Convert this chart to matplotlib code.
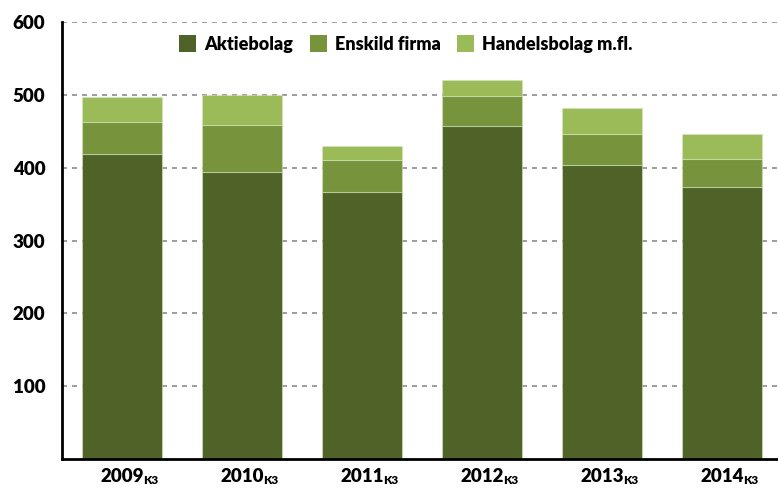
import numpy as np
import matplotlib
matplotlib.use('Agg')
import matplotlib.pyplot as plt
from matplotlib.patches import Patch

years = ['2009', '2010', '2011', '2012', '2013', '2014']
suffix = 'K3'
aktiebolag = [418, 394, 366, 457, 403, 374]
enskild = [45, 64, 45, 41, 43, 38]
handelsbolag = [34, 42, 18, 22, 36, 34]
series_names = ['Aktiebolag', 'Enskild firma', 'Handelsbolag m.fl.']
colors = ['#4F6228', '#77933C', '#9BBB59']

plt.rcParams['font.family'] = ['Lato', 'DejaVu Sans']
plt.rcParams['font.weight'] = 'bold'

fig = plt.figure(figsize=(7.78, 4.91), dpi=100)
ax = fig.add_axes([62/778, 1 - 459.3/491, 720/778, 437.6/491])

x = np.arange(len(years))
bottom = np.zeros(len(years))
for vals, col in zip([aktiebolag, enskild, handelsbolag], colors):
    ax.bar(x, vals, width=0.667, bottom=bottom, color=col,
           edgecolor=(0.85, 0.9, 0.75, 0.5), linewidth=0.8, zorder=2)
    bottom += np.array(vals)

ax.set_xlim(-0.5, len(years) - 0.5)
ax.set_ylim(0, 600)
ax.set_yticks([100, 200, 300, 400, 500, 600])
ax.yaxis.grid(True, color='#8C8C8C', linestyle=(0, (3, 3)), linewidth=1.2)
ax.set_axisbelow(True)
ax.tick_params(axis='y', length=0, pad=12, labelsize=13.5)
ax.tick_params(axis='x', length=0, pad=6, labelsize=13.5)
ax.set_xticks(x)
ax.set_xticklabels(years, fontweight='heavy')
for lab in ax.get_yticklabels():
    lab.set_fontweight('heavy')

for xi in x:
    ax.annotate(suffix, xy=(xi, 0), xycoords=('data', 'axes fraction'),
                xytext=(15.5, -17.5), textcoords='offset points',
                fontsize=8.5, fontweight='heavy', ha='left', va='baseline')

for s in ['top', 'right']:
    ax.spines[s].set_visible(False)
ax.spines['left'].set_linewidth(2)
ax.spines['bottom'].set_linewidth(2)

handles = [Patch(facecolor=c, edgecolor='none') for c in colors]
fig.legend(handles, series_names, loc='center', ncol=3, frameon=False,
           bbox_to_anchor=(406/778, 1 - 44/491),
           handlelength=0.95, handleheight=1.1, columnspacing=0.9,
           handletextpad=0.45, prop={'weight': 'heavy', 'size': 13})

fig.savefig('out.png', dpi=100)
